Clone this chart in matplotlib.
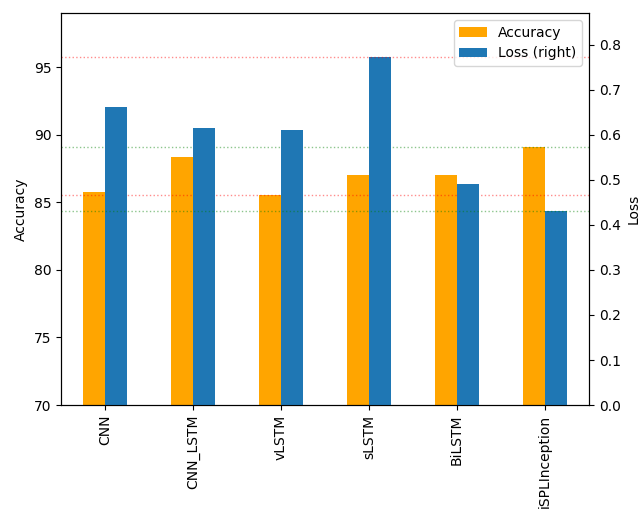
import matplotlib
matplotlib.use("Agg")
import matplotlib.pyplot as plt
import numpy as np

models = ["CNN", "CNN_LSTM", "vLSTM", "sLSTM", "BiLSTM", "iSPLInception"]
accuracy = [85.75, 88.34, 85.51, 87.01, 87.01, 89.06]
loss = [0.662, 0.616, 0.610, 0.773, 0.490, 0.431]

fig = plt.figure(figsize=(6.42, 5.16), dpi=100)
ax = fig.add_axes([0.095, 0.2151, 0.8225, 0.7597])
ax2 = ax.twinx()

x = np.arange(len(models))
w = 0.25
ax.bar(x - w / 2, accuracy, width=w, color="orange", label="Accuracy")
ax2.bar(x + w / 2, loss, width=w, color="#1f77b4", label="Loss (right)")

ax.set_xlim(-0.5, len(models) - 0.5)
ax.set_xticks(x)
ax.set_xticklabels(models, rotation=90)
ax.set_ylabel("Accuracy")
ax2.set_ylabel("Loss")
ax2.set_yticks(np.arange(0, 0.81, 0.1))

# best / worst reference lines
ax.axhline(max(accuracy), color="green", linestyle=":", linewidth=1.0, alpha=0.45)
ax.axhline(min(accuracy), color="red", linestyle=":", linewidth=1.0, alpha=0.45)
ax2.axhline(max(loss), color="red", linestyle=":", linewidth=1.0, alpha=0.45)
ax2.axhline(min(loss), color="green", linestyle=":", linewidth=1.0, alpha=0.45)
ax.set_ylim(70, 99.0)
ax2.set_ylim(0, 0.871)

h1, l1 = ax.get_legend_handles_labels()
h2, l2 = ax2.get_legend_handles_labels()
ax2.legend(h1 + h2, l1 + l2, loc="upper right")

fig.savefig("out.png", dpi=100)
